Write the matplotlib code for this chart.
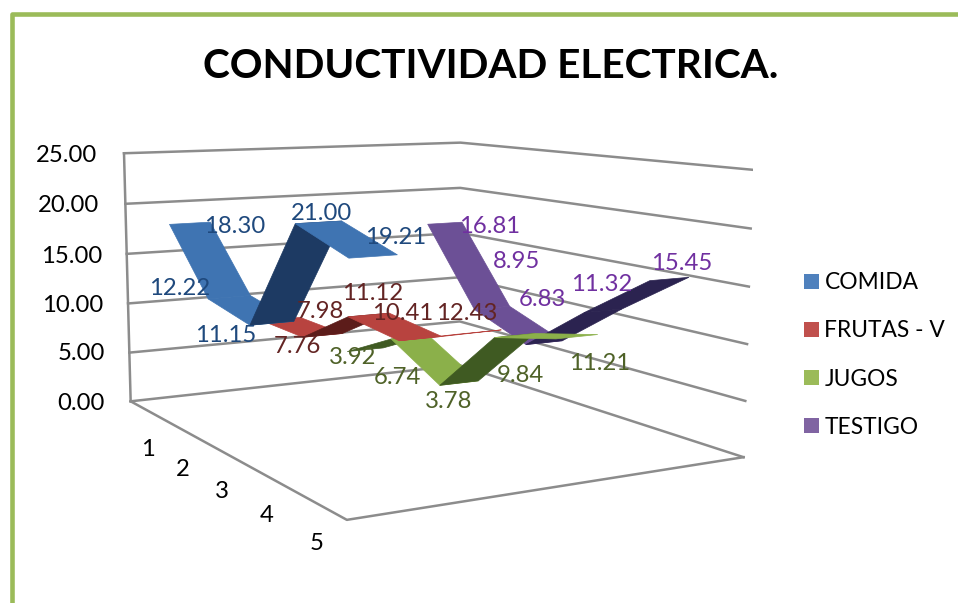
import numpy as np
import matplotlib
matplotlib.use('Agg')
import matplotlib.pyplot as plt
from mpl_toolkits.mplot3d.art3d import Poly3DCollection
from matplotlib.patches import Patch, Rectangle

plt.rcParams['font.family'] = ['Lato', 'DejaVu Sans']
W, H = 958, 603

title = 'CONDUCTIVIDAD ELECTRICA.'
categories = ['1', '2', '3', '4', '5']
series_names = ['COMIDA', 'FRUTAS - V', 'JUGOS', 'TESTIGO']
comida = [18.30, 12.22, 11.15, 21.00, 19.21]
frutas = [7.98, 7.76, 11.12, 10.41, 12.43]
jugos = [3.92, 6.74, 3.78, 9.84, 11.21]
testigo = [16.81, 8.95, 6.83, 11.32, 15.45]
value_ticks = [0, 5, 10, 15, 20, 25]

legend_colors = ['#4F81BD', '#C0504D', '#9BBB59', '#8064A2']
face_colors = ['#3F74B2', '#B8433F', '#8BB04A', '#6C5096']
dark_colors = ['#1D3A63', '#5C1C1A', '#3F5A22', '#2B2350']
label_colors = ['#1F497D', '#632423', '#4F6228', '#7030A0']
grid_color = '#8C8C8C'
border_color = '#9BBB59'

# pixel centres of the text labels
label_px = [
    [(235, 224), (180, 287), (226, 334), (322, 212), (396, 236)],
    [(320, 309), (297, 344), (373, 292), (403, 312), (467, 311)],
    [(353, 355), (397, 375), (449, 399), (520, 373), (600, 361)],
    [(490, 224), (517, 260), (542, 297), (602, 282), (682, 261)],
]
tick_px = [(105, 401), (105, 352), (103, 303), (102, 254), (99, 204), (97, 154)]
cat_px = [(148, 448), (183, 467), (222, 489), (267, 514), (317, 542)]

# camera fitted to the chart's box
ELEV, AZIM, FOCAL = 8.5691, -29.4291, float(np.exp(-0.8476))
BOX = (float(np.exp(0.6514)), float(np.exp(0.4378)), 1.0)
SCALE, CX, CY = 3759.392, 414.351, 295.685
HALF_WIDTH = 0.22
DARK_SLOPE = 2.4
FS = 17.2
TEXT_DY = 2

fig = plt.figure(figsize=(W/100, H/100), dpi=100)
fig.patch.set_facecolor('white')

ax = fig.add_axes([0.1, 0.1, 700/W, 700/H], projection='3d', computed_zorder=False)
ax.set_xlim(0, len(categories))
ax.set_ylim(0, len(series_names))
ax.set_zlim(value_ticks[0], value_ticks[-1])
ax.set_axis_off()
ax.view_init(elev=ELEV, azim=AZIM)
ax.set_proj_type('persp', focal_length=FOCAL)
ax.set_box_aspect(BOX)

# place the axes so that the projected view lands at the fitted scale and centre
ax.apply_aspect()
o, u = ax.transData.transform([(0, 0), (1, 1)])
side = 700 * SCALE / (u[0] - o[0])
ax.set_position([0.1, 0.1, side/W, side/H])
ax.apply_aspect()
o = ax.transData.transform((0, 0))
ax.set_position([0.1 + (CX - o[0])/W, 0.1 + ((H - CY) - o[1])/H, side/W, side/H])

xn, yn = len(categories), len(series_names)
GRID_LW = 1.8
for z in value_ticks:
    ax.plot([0, 0, xn], [0, yn, yn], [z, z, z], color=grid_color, lw=GRID_LW, zorder=1)
ax.plot([0, 0], [0, 0], [value_ticks[0], value_ticks[-1]], color=grid_color, lw=GRID_LW, zorder=1)
ax.plot([0, xn, xn], [0, 0, yn], [0, 0, 0], color=grid_color, lw=GRID_LW, zorder=1)

all_series = [comida, frutas, jugos, testigo]
z0 = 10
for i in range(len(all_series) - 1, -1, -1):
    vals = all_series[i]
    y = i + 0.5
    for j in range(len(vals) - 1):
        x1, x2 = j + 0.5, j + 1.5
        v1, v2 = vals[j], vals[j + 1]
        quad = [(x1, y - HALF_WIDTH, v1), (x1, y + HALF_WIDTH, v1),
                (x2, y + HALF_WIDTH, v2), (x2, y - HALF_WIDTH, v2)]
        col = dark_colors[i] if v2 - v1 > DARK_SLOPE else face_colors[i]
        ax.add_collection3d(Poly3DCollection([quad], facecolors=col, edgecolors=col,
                                             linewidths=0.5, zorder=z0))
        z0 += 1

def place(x, y, s, **kw):
    fig.text(x/W, 1 - (y + TEXT_DY)/H, s, va='center', **kw)

place(491, 65, title, ha='center', fontsize=29.2, fontweight='bold', color='black')
for t, (x, y) in zip(value_ticks, tick_px):
    place(x, y, f'{t:.2f}', ha='right', fontsize=FS, color='black')
for c, (x, y) in zip(categories, cat_px):
    place(x, y, c, ha='center', fontsize=FS, color='black')
for vals, pos, col in zip(all_series, label_px, label_colors):
    for v, (x, y) in zip(vals, pos):
        place(x, y, f'{v:.2f}', ha='center', fontsize=FS, color=col)

handles = [Patch(facecolor=c, edgecolor='none') for c in legend_colors]
fig.legend(handles, series_names, loc='center left', frameon=False, fontsize=16.4,
           bbox_to_anchor=(804/W, 1 - 355/H), handlelength=0.66, handleheight=0.66,
           handletextpad=0.24, labelspacing=1.19, borderpad=0, borderaxespad=0)

fig.add_artist(Rectangle((11.5/W, -0.1), 1.2, 1.1 - 14/H, transform=fig.transFigure,
                         fill=False, edgecolor=border_color, linewidth=3.3, joinstyle='round'))
fig.savefig('out.png', dpi=100)
